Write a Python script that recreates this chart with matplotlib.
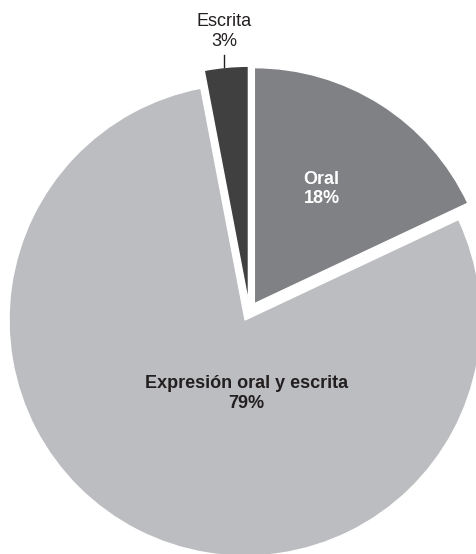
import matplotlib.pyplot as plt

plt.rcParams['font.family'] = ['Liberation Sans', 'DejaVu Sans']

# data
labels = ['Oral', 'Expresión oral y escrita', 'Escrita']
values = [18, 79, 3]
colors = ['#808184', '#bcbdc0', '#404041']

W, H = 477, 554
fig = plt.figure(figsize=(W / 100, H / 100), dpi=100)
ax = fig.add_axes([0, 0, 1, 1])

center = (249.3, H - 311.6)
radius = 236
# explode is in data units here (axes are in pixels)
ax.pie(values, colors=colors, startangle=90, counterclock=False,
       center=center, radius=radius, explode=[9.4] * 3,
       wedgeprops=dict(edgecolor='white', linewidth=1))

ax.set_xlim(0, W)
ax.set_ylim(0, H)
ax.set_aspect('equal')
ax.axis('off')

txt = '#231f20'
ax.text(321.5, H - 189, "{0}\n{1}%".format(labels[0], values[0]), ha='center', va='center',
        fontsize=13, fontweight='bold', color='white', linespacing=1.2)
ax.text(246.5, H - 393.5, "{0}\n{1}%".format(labels[1], values[1]), ha='center', va='center',
        fontsize=13, fontweight='bold', color=txt, linespacing=1.2)
ax.text(224, H - 31.5, "{0}\n{1}%".format(labels[2], values[2]), ha='center', va='center',
        fontsize=13, color=txt, linespacing=1.2)
ax.plot([224, 224], [H - 55, H - 67], color=txt, lw=1)

fig.savefig('out.png', dpi=100)
